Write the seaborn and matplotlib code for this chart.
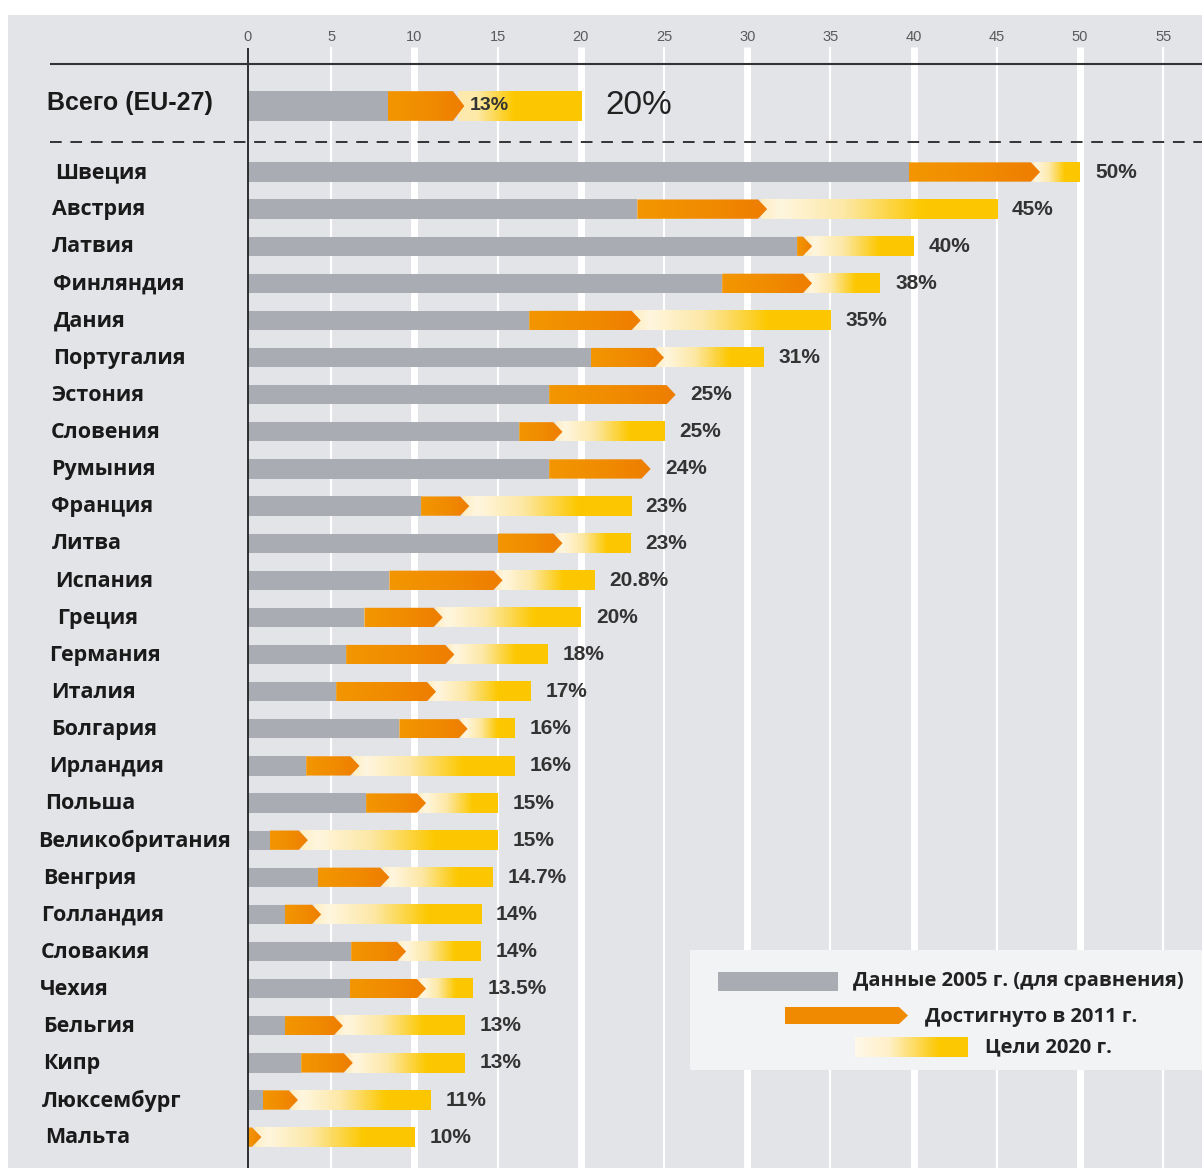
import numpy as np
import pandas as pd
import matplotlib
matplotlib.use("Agg")
import matplotlib.pyplot as plt
from matplotlib.colors import LinearSegmentedColormap
from matplotlib.patches import Polygon, Rectangle
from matplotlib import font_manager
import seaborn as sns

# ---------------- data ----------------
countries = ["Швеция", "Австрия", "Латвия", "Финляндия", "Дания", "Португалия",
             "Эстония", "Словения", "Румыния", "Франция", "Литва", "Испания",
             "Греция", "Германия", "Италия", "Болгария", "Ирландия", "Польша",
             "Великобритания", "Венгрия", "Голландия", "Словакия", "Чехия",
             "Бельгия", "Кипр", "Люксембург", "Мальта"]
share_2005 = [39.7, 23.4, 33.0, 28.5, 16.9, 20.6, 18.1, 16.3, 18.1, 10.4, 15.0, 8.5,
              7.0, 5.9, 5.3, 9.1, 3.5, 7.1, 1.3, 4.2, 2.2, 6.2, 6.1, 2.2, 3.2, 0.9, 0.0]
share_2011 = [47.6, 31.2, 33.9, 33.9, 23.6, 25.0, 25.7, 18.9, 24.2, 13.3, 18.9, 15.3,
              11.7, 12.4, 11.3, 13.2, 6.7, 10.7, 3.6, 8.5, 4.4, 9.5, 10.7, 5.7, 6.3, 3.0, 0.8]
target_2020 = [50, 45, 40, 38, 35, 31, 25, 25, 24, 23, 23, 20.8, 20, 18, 17, 16, 16, 15,
               15, 14.7, 14, 14, 13.5, 13, 13, 11, 10]
eu_label = "Всего (EU-27)"
eu_2005 = 8.4
eu_2011 = 13.0
eu_2020 = 20
x_ticks = list(range(0, 60, 5))
legend_labels = ["Данные 2005 г. (для сравнения)", "Достигнуто в 2011 г.", "Цели 2020 г."]

# layout only: left edge (pixels) of each country name as placed in the original
label_left_px = [55, 52, 52, 53, 54, 53, 51, 51, 51, 51, 52, 55, 57, 49, 51, 51, 49,
                 45, 38, 43, 41, 41, 40, 43, 43, 42, 45]

df = pd.DataFrame({"country": countries, "s2005": share_2005,
                   "s2011": share_2011, "s2020": target_2020})

# ---------------- style ----------------
sns.set_theme(style="white")
available = {f.name for f in font_manager.fontManager.ttflist}
narrow = "Liberation Sans Narrow" if "Liberation Sans Narrow" in available else "Liberation Sans"
label_font = "Open Sans" if "Open Sans" in available else "DejaVu Sans"
plt.rcParams["font.family"] = [label_font, "DejaVu Sans"]

BG = "#e3e4e8"
GREY = "#a9adb3"
ORANGE_CMAP = LinearSegmentedColormap.from_list("org", ["#f39600", "#f18c00", "#ee7d00"])
YELLOW_CMAP = LinearSegmentedColormap.from_list(
    "yel", [(0.0, "#fdeec4"), (0.08, "#fff6df"), (0.35, "#fde8a6"),
            (0.68, "#fcc800"), (1.0, "#fcc700")])
EU_YELLOW_CMAP = LinearSegmentedColormap.from_list(
    "yel_eu", [(0.0, "#fde9b0"), (0.15, "#fdeaa8"), (0.45, "#fcc800"), (1.0, "#fcc700")])

W, H = 1202, 1168
fig = plt.figure(figsize=(W / 100, H / 100), dpi=100, facecolor="white")

px0, px_per = 248.0, 16.64          # x=0 position & pixels per unit
py0, py_per = 172.0, 37.12          # first country row & pixels per row
left_px, top_px = 8, 15
ax = fig.add_axes([left_px / W, 0, 1 - left_px / W, 1 - top_px / H])
ax.set_facecolor(BG)

xmin = -(px0 - left_px) / px_per
xmax = (W - px0) / px_per
ymin = (top_px - py0) / py_per
ymax = (H - py0) / py_per

def ydat(py):
    return (py - py0) / py_per

def xdat(px):
    return (px - px0) / px_per

bar_h = 0.52
eu_y = ydat(106)
eu_h = 0.80

# ---------------- grid ----------------
for t in x_ticks[1:]:
    ax.vlines(t, ydat(47), ymax, color="white", lw=5 if t % 10 == 0 else 1.6, zorder=0.5)
ax.vlines(0, ydat(48), ymax, color="#222222", lw=1.3, zorder=6)
for t in x_ticks:
    ax.text(t, ydat(37), str(t), ha="center", va="center", fontsize=10.5,
            color="#5a5a5a", family=narrow, zorder=6)
ax.hlines(ydat(64), xdat(50), xmax, color="#333333", lw=1.5, zorder=6)
ax.hlines(ydat(142), xdat(50), xmax, color="#333333", lw=1.4,
          linestyles=(0, (6, 4.5)), zorder=6)

# ---------------- bars ----------------
grad = np.linspace(0, 1, 256).reshape(1, -1)

def yellow_bar(x0, x1, yc, h, cmap=YELLOW_CMAP):
    if x1 - x0 <= 0.2:
        return
    ax.imshow(grad, extent=(x0, x1, yc + h / 2, yc - h / 2), cmap=cmap,
              aspect="auto", interpolation="bilinear", zorder=2)

def orange_arrow(x0, tip, yc, h):
    hl = min(0.55 * (h / bar_h) ** 0.5, (tip - x0) * 0.8)
    pts = [(x0, yc - h / 2), (tip - hl, yc - h / 2), (tip, yc),
           (tip - hl, yc + h / 2), (x0, yc + h / 2)]
    poly = Polygon(pts, closed=True, facecolor="none", edgecolor="none")
    ax.add_patch(poly)
    im = ax.imshow(grad, extent=(x0, tip, yc + h / 2, yc - h / 2), cmap=ORANGE_CMAP,
                   aspect="auto", interpolation="bilinear", zorder=4)
    im.set_clip_path(poly)

# 2005 values via seaborn
sns.barplot(data=df, y="country", x="s2005", order=countries, orient="h",
            color=GREY, saturation=1, width=bar_h, linewidth=0, ax=ax, zorder=3)
ax.barh(eu_y, eu_2005, height=eu_h, color=GREY, linewidth=0, zorder=3)

for i, r in df.iterrows():
    tip = r.s2011
    if r.s2020 > tip + 0.3:
        yellow_bar(tip - 0.4, r.s2020, i, bar_h)
    orange_arrow(r.s2005, tip, i, bar_h)
    ax.text(max(r.s2020, tip) + 0.9, i, f"{r.s2020:g}%", ha="left", va="center",
            fontsize=15, fontweight="bold", color="#333333", family=narrow, zorder=6)
    ax.text(xdat(label_left_px[i]), i + 0.02, r.country, ha="left", va="center",
            fontsize=15.5, fontweight="bold", color="#1a1a1a", zorder=6)

yellow_bar(eu_2011 - 0.4, eu_2020, eu_y, eu_h, EU_YELLOW_CMAP)
orange_arrow(eu_2005, eu_2011, eu_y, eu_h)
ax.text(eu_2011 + 0.3, eu_y, f"{eu_2011:g}%", ha="left", va="center", fontsize=14,
        fontweight="bold", color="#333333", family=narrow, zorder=6)
ax.text(eu_2020 + 1.45, eu_y, f"{eu_2020:g}%", ha="left", va="center", fontsize=24,
        color="#222222", family=narrow, zorder=6)
ax.text(xdat(47), eu_y - 0.08, eu_label, ha="left", va="center", fontsize=18,
        fontweight="bold", color="#1a1a1a", family=narrow, zorder=6)

# ---------------- legend ----------------
ax.add_patch(Rectangle((xdat(690), ydat(950)), xmax - xdat(690), ydat(1070) - ydat(950),
                       facecolor="#f2f3f5", edgecolor="none", zorder=7))
ax.add_patch(Rectangle((xdat(718), ydat(972)), xdat(838) - xdat(718), ydat(991) - ydat(972),
                       facecolor=GREY, edgecolor="none", zorder=8))
lh = ydat(1024) - ydat(1007)
lyc = ydat(1015.5)
pts = [(xdat(785), lyc - lh / 2), (xdat(899), lyc - lh / 2), (xdat(908), lyc),
       (xdat(899), lyc + lh / 2), (xdat(785), lyc + lh / 2)]
ax.add_patch(Polygon(pts, closed=True, facecolor="#f08a00", edgecolor="none", zorder=8))
ax.imshow(grad, extent=(xdat(855), xdat(968), ydat(1057), ydat(1037)),
          cmap=LinearSegmentedColormap.from_list(
              "lg", [(0, "#fff8ea"), (0.3, "#fff0c8"), (0.75, "#fcc800"), (1, "#fcc800")]),
          aspect="auto", interpolation="bilinear", zorder=8)
for txt, xp, yp in zip(legend_labels, [853, 925, 985], [981, 1017, 1047]):
    ax.text(xdat(xp), ydat(yp), txt, ha="left", va="center", fontsize=14.5,
            fontweight="bold", color="#222222", zorder=9)

# ---------------- axes cleanup ----------------
ax.set_xlim(xmin, xmax)
ax.set_ylim(ymax, ymin)
ax.set_xticks([])
ax.set_yticks([])
ax.set_xlabel("")
ax.set_ylabel("")
for s in ax.spines.values():
    s.set_visible(False)

fig.savefig("out.png", dpi=100, facecolor="white")
